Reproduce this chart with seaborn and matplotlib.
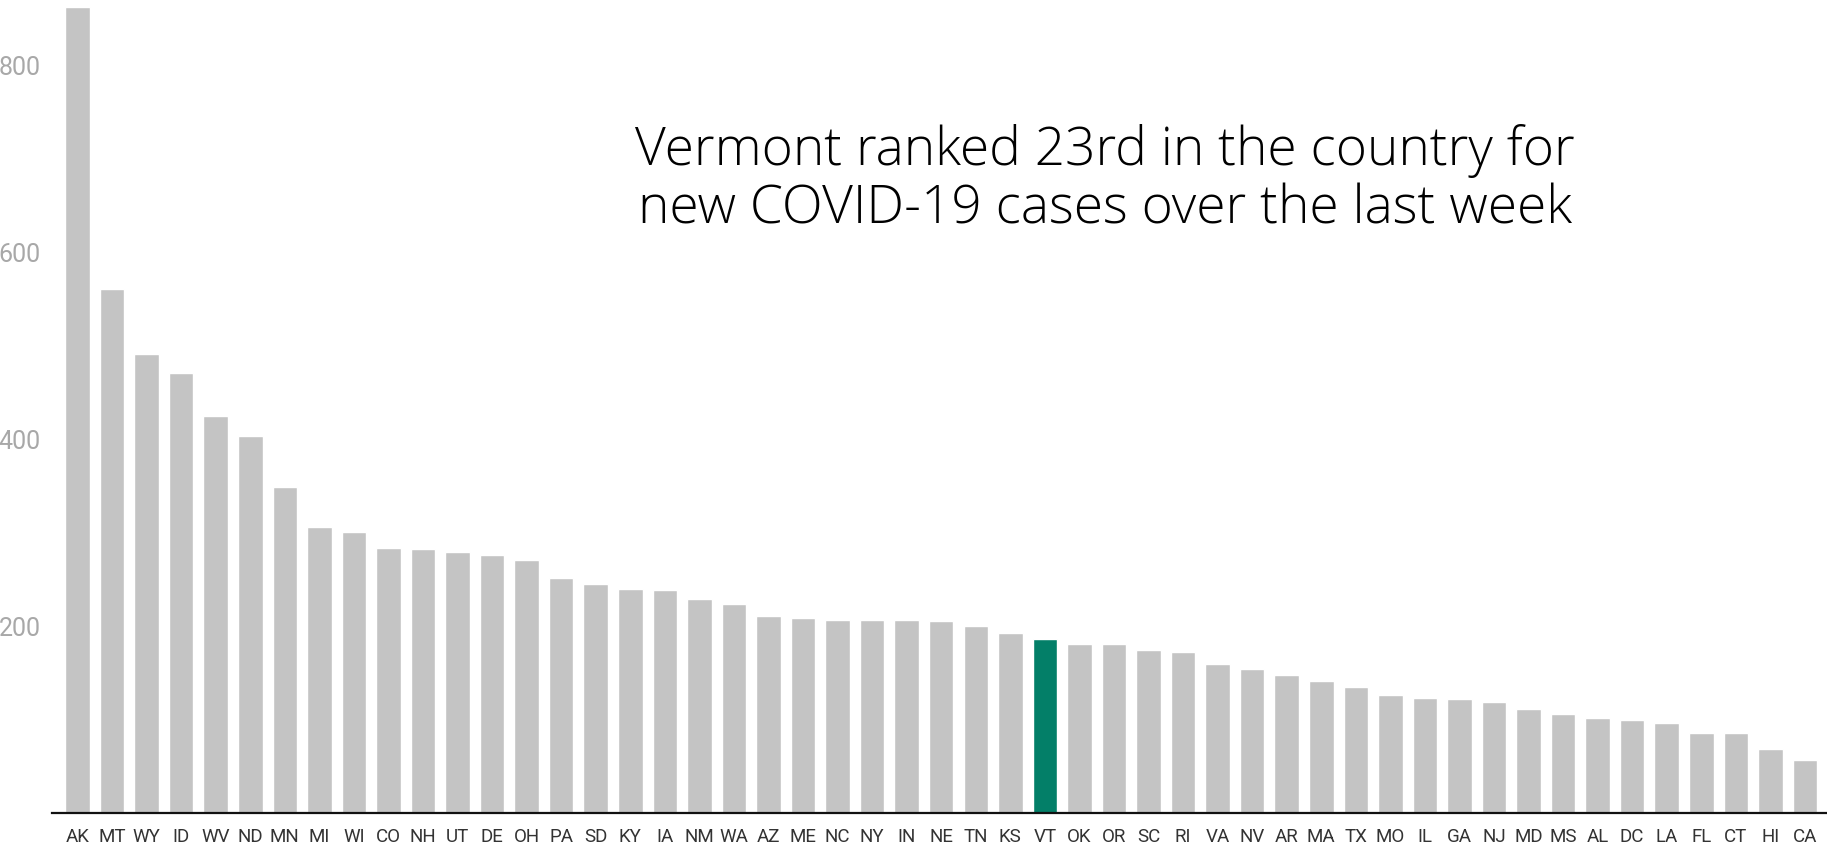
import matplotlib
matplotlib.use("Agg")
import matplotlib.pyplot as plt
import seaborn as sns

# weekly new cases per 100k
states = ["AK", "MT", "WY", "ID", "WV", "ND", "MN", "MI", "WI", "CO",
          "NH", "UT", "DE", "OH", "PA", "SD", "KY", "IA", "NM", "WA",
          "AZ", "ME", "NC", "NY", "IN", "NE", "TN", "KS", "VT", "OK",
          "OR", "SC", "RI", "VA", "NV", "AR", "MA", "TX", "MO", "IL",
          "GA", "NJ", "MD", "MS", "AL", "DC", "LA", "FL", "CT", "HI", "CA"]
cases = [863, 561, 491, 471, 425, 403, 349, 306, 301, 284,
         282, 279, 276, 271, 252, 245, 240, 239, 229, 224,
         211, 209, 207, 207, 206, 205, 200, 193, 186, 181,
         181, 174, 172, 159, 154, 148, 141, 135, 126, 123,
         122, 119, 111, 106, 102, 100, 96, 86, 86, 68, 57]
yticks = [200, 400, 600, 800]
highlight = "VT"
title_lines = ["Vermont ranked 23rd in the country for",
               "new COVID-19 cases over the last week"]

sns.set_style("white")
plt.rcParams['font.family'] = ['Roboto', 'DejaVu Sans']

grey = '#c4c4c4'
green = '#037f68'
palette = {s: (green if s == highlight else grey) for s in states}

fig = plt.figure(figsize=(18.27, 8.49), dpi=100)
ax = fig.add_axes([52 / 1827, 36 / 849, 1 - 52 / 1827, 813 / 849])

sns.barplot(x=states, y=cases, hue=states, palette=palette, legend=False,
            width=0.71, saturation=1, ax=ax)

ax.set_xlim(-0.74, 50.64)
ax.set_ylim(0, 870)
ax.set_yticks(yticks)
ax.set_yticklabels([str(t) for t in yticks])
ax.tick_params(axis='y', length=0, pad=8, labelsize=18, labelcolor='#a8a8a8')
ax.tick_params(axis='x', length=0, pad=11, labelsize=13.5, labelcolor='#333333')
ax.set_xlabel('')
ax.set_ylabel('')

for side in ['left', 'top', 'right']:
    ax.spines[side].set_visible(False)
ax.spines['bottom'].set_color('#111111')
ax.spines['bottom'].set_linewidth(1.6)

# title, two centred lines, sized to match the original width
fig.canvas.draw()
renderer = fig.canvas.get_renderer()
ys = [1 - 151 / 849, 1 - 210 / 849]
texts = []
for line, yy in zip(title_lines, ys):
    t = fig.text(0.6048, yy, line, ha='center', va='center',
                 fontsize=34, color='#000000', fontweight='light',
                 family=['Open Sans', 'Lato', 'DejaVu Sans'])
    texts.append(t)
w = texts[0].get_window_extent(renderer).width
scale = 939 / w
for t in texts:
    t.set_fontsize(34 * scale)

fig.savefig('out.png', dpi=100)
